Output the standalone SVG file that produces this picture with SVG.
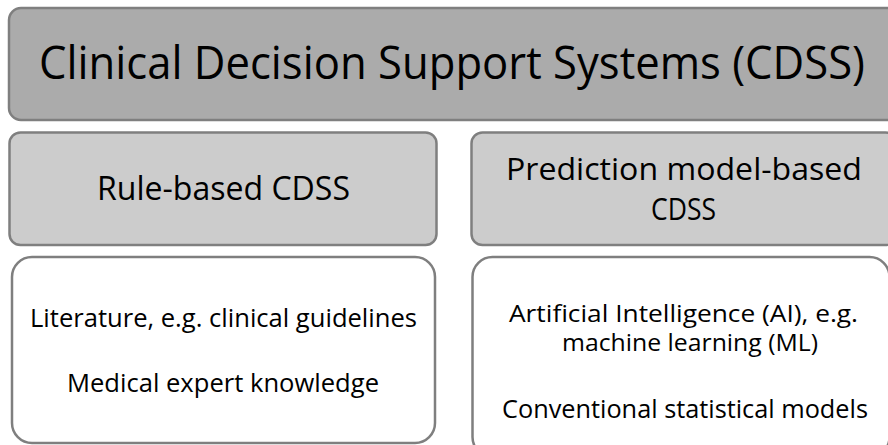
<svg xmlns="http://www.w3.org/2000/svg" width="888" height="445" viewBox="0 0 888 445">
<style>
.box{stroke:#7f7f7f;stroke-width:2.5}
.top{fill:#ababab}
.mid{fill:#cccccc}
.low{fill:#ffffff}
text{font-family:"Open Sans","Noto Sans","Liberation Sans",sans-serif;fill:#000;text-anchor:middle}
.t1{font-size:46px}
.t2{font-size:33px}
.t2s{font-size:31px}
.t3{font-size:25px}
.t3s{font-size:23px}
</style>
<rect width="888" height="445" fill="#ffffff"/>
<g id="node-cdss">
<rect class="box top" x="9" y="8" width="890" height="112" rx="12"/>
<text class="t1" x="452" y="79" textLength="826" lengthAdjust="spacingAndGlyphs">Clinical Decision Support Systems (CDSS)</text>
</g>
<g id="node-rule">
<rect class="box mid" x="9.5" y="132.5" width="427" height="112.5" rx="11"/>
<text class="t2" x="223.5" y="200" textLength="253" lengthAdjust="spacingAndGlyphs">Rule-based CDSS</text>
</g>
<g id="node-pred">
<rect class="box mid" x="471.5" y="132.5" width="425" height="112.5" rx="11"/>
<text class="t2s" x="684" y="179.5" textLength="356" lengthAdjust="spacingAndGlyphs">Prediction model-based</text>
<text class="t2s" x="683.5" y="219.5" textLength="65" lengthAdjust="spacingAndGlyphs">CDSS</text>
</g>
<g id="node-rule-detail">
<rect class="box low" x="12" y="257" width="423" height="186" rx="20"/>
<text class="t3" x="223.5" y="327" textLength="387" lengthAdjust="spacingAndGlyphs">Literature, e.g. clinical guidelines</text>
<text class="t3" x="223" y="392" textLength="312" lengthAdjust="spacingAndGlyphs">Medical expert knowledge</text>
</g>
<g id="node-pred-detail">
<rect class="box low" x="472.5" y="257" width="417" height="200" rx="20"/>
<text class="t3s" x="683.5" y="322" textLength="349" lengthAdjust="spacingAndGlyphs">Artificial Intelligence (AI), e.g.</text>
<text class="t3s" x="690" y="351" textLength="256" lengthAdjust="spacingAndGlyphs">machine learning (ML)</text>
<text class="t3" x="685" y="418" textLength="366" lengthAdjust="spacingAndGlyphs">Conventional statistical models</text>
</g>
<g id="connectors"></g>
</svg>
